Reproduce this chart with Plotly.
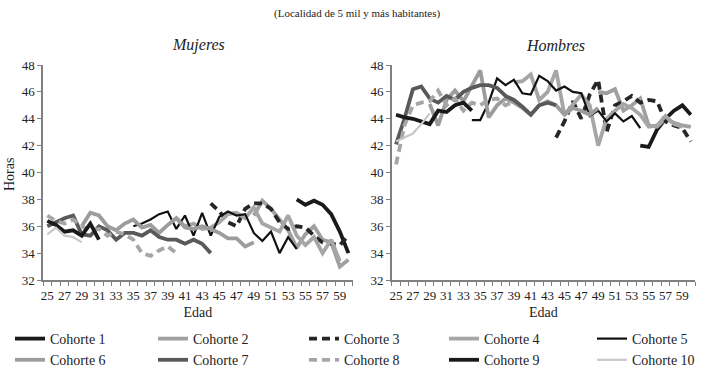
import plotly.graph_objects as go

AGES = list(range(25, 61))
TICK_AGES = list(range(25, 60, 2))
COHORTS = ["Cohorte %d" % i for i in range(1, 11)]

# ---- Mujeres (start age, values) ----
M1_START, M1 = 54, [38.0, 37.6, 37.9, 37.6, 36.9, 35.6, 34.0]
M2_START, M2 = 49, [36.8, 37.9, 37.3, 36.5, 35.7, 34.4, 35.4, 36.0, 35.0, 34.8, 33.0, 33.5]
M3_START, M3 = 44, [37.7, 37.1, 36.3, 36.0, 37.3, 37.7, 37.7, 37.3, 36.3, 35.8, 36.0, 35.9, 35.3, 34.8, 34.7, 34.6, 35.3]
M4_START, M4 = 40, [36.6, 36.0, 36.2, 35.8, 35.9, 36.3, 36.9, 37.0, 36.6, 37.4, 36.2, 35.9, 35.6, 36.8, 35.3, 34.6, 35.2, 34.0, 35.0, 33.4]
M5_START, M5 = 35, [36.0, 36.2, 36.5, 36.9, 37.1, 35.8, 36.8, 35.3, 37.0, 35.3, 36.7, 37.1, 36.8, 36.9, 35.5, 34.9, 35.6, 34.0, 35.2, 34.3]
M6_START, M6 = 29, [36.0, 37.0, 36.8, 36.0, 35.7, 36.2, 36.5, 35.9, 36.1, 35.5, 36.1, 36.6, 35.9, 35.8, 36.0, 35.8, 35.5, 35.1, 35.1, 34.5, 34.8]
M7_START, M7 = 25, [36.0, 36.3, 36.6, 36.8, 35.4, 35.3, 36.0, 35.7, 35.0, 35.5, 35.5, 35.3, 35.7, 35.2, 35.0, 35.0, 34.7, 35.0, 34.7, 34.0]
M8_START, M8 = 25, [36.8, 36.4, 36.2, 36.5, 36.0, 35.7, 35.8, 35.3, 35.6, 35.4, 35.0, 34.0, 33.8, 34.2, 34.5, 34.0]
M9_START, M9 = 25, [36.4, 36.1, 35.6, 35.7, 35.3, 36.2, 35.0]
M10_START, M10 = 25, [35.4, 35.9, 35.3, 35.2, 34.8]

# ---- Hombres ----
H1_START, H1 = 54, [42.0, 41.9, 43.2, 44.0, 44.6, 45.0, 44.3]
H2_START, H2 = 49, [46.0, 45.9, 46.2, 44.6, 45.0, 45.5, 43.5, 43.4, 44.0, 43.7, 43.5, 43.4]
H3_START, H3 = 44, [42.6, 43.8, 45.3, 44.0, 45.8, 46.9, 43.0, 45.0, 45.3, 45.7, 45.2, 45.4, 45.3, 43.8, 43.5, 43.3, 42.3]
H4_START, H4 = 39, [46.7, 46.8, 47.3, 45.4, 46.0, 47.6, 44.3, 45.0, 45.8, 45.0, 42.0, 44.0, 44.6, 45.1, 44.8, 44.3, 43.4, 43.5, 44.2, 43.6, 43.4]
H5_START, H5 = 34, [43.9, 43.9, 45.2, 47.0, 46.5, 46.9, 45.9, 45.8, 47.2, 46.8, 46.1, 46.4, 46.0, 45.9, 44.2, 44.6, 43.8, 44.4, 43.8, 44.2, 43.3]
H6_START, H6 = 29, [45.1, 43.5, 45.4, 46.1, 45.3, 46.4, 47.6, 44.1, 45.0, 45.5, 45.2, 44.8, 44.3, 45.0, 45.3, 45.0, 44.3, 44.8, 44.6, 44.3, 44.8]
H7_START, H7 = 25, [42.1, 44.0, 46.2, 46.4, 45.5, 45.2, 45.7, 45.4, 46.0, 46.3, 46.5, 46.5, 46.3, 45.7, 45.4, 44.9, 44.3, 45.0, 45.2, 45.0]
H8_START, H8 = 25, [40.6, 43.5, 45.0, 45.2, 45.3, 46.1, 45.0, 45.5, 44.6, 45.2, 45.0, 45.4, 45.5, 45.0, 45.3]
H9_START, H9 = 25, [44.3, 44.1, 44.0, 43.8, 43.6, 44.6, 44.5, 45.0, 45.2, 44.6]
H10_START, H10 = 25, [42.3, 42.6, 42.9, 43.6, 44.4]

MUJERES = [(M1_START, M1), (M2_START, M2), (M3_START, M3), (M4_START, M4), (M5_START, M5),
           (M6_START, M6), (M7_START, M7), (M8_START, M8), (M9_START, M9), (M10_START, M10)]
HOMBRES = [(H1_START, H1), (H2_START, H2), (H3_START, H3), (H4_START, H4), (H5_START, H5),
           (H6_START, H6), (H7_START, H7), (H8_START, H8), (H9_START, H9), (H10_START, H10)]

STYLES = [
    dict(color="#1a1a1a", width=3.8, dash="solid"),
    dict(color="#a0a0a0", width=3.8, dash="solid"),
    dict(color="#262626", width=3.8, dash="8px,5px"),
    dict(color="#a6a6a6", width=3.8, dash="solid"),
    dict(color="#111111", width=2.2, dash="solid"),
    dict(color="#9c9c9c", width=3.8, dash="solid"),
    dict(color="#595959", width=3.8, dash="solid"),
    dict(color="#a6a6a6", width=3.8, dash="8px,5px"),
    dict(color="#1a1a1a", width=3.8, dash="solid"),
    dict(color="#c8c8c8", width=2.2, dash="solid"),
]

W, H = 708, 370
ML, MR, MT, MB = 43, 13, 65, 90
PW, PH = W - ML - MR, H - MT - MB


def full(start, vals):
    out = [None] * len(AGES)
    for i, v in enumerate(vals):
        out[start - AGES[0] + i] = v
    return out


def px_x(px):
    return (px - ML) / PW


def px_y(py):
    return (H - MB - py) / PH


FONT = "Liberation Serif, Times New Roman, serif"
LEG_NAMES = ["legend", "legend2", "legend3", "legend4", "legend5"]
LEG_PX = [10, 153, 304, 444, 592]

fig = go.Figure()
for i, name in enumerate(COHORTS):
    st = STYLES[i]
    fig.add_trace(go.Scatter(x=AGES, y=full(*MUJERES[i]), mode="lines", name=name,
                             line=st, xaxis="x", yaxis="y", legendgroup=name,
                             legend=LEG_NAMES[i % 5], connectgaps=False))
    fig.add_trace(go.Scatter(x=AGES, y=full(*HOMBRES[i]), mode="lines", name=name,
                             line=st, xaxis="x2", yaxis="y2", legendgroup=name,
                             showlegend=False, connectgaps=False))

xcommon = dict(range=[24.5, 60.5], tickvals=TICK_AGES, ticks="", showgrid=False,
               zeroline=False, showline=True, linecolor="#808080", linewidth=1.5,
               tickfont=dict(family=FONT, size=13, color="#222"), ticklabelstandoff=3,
               minor=dict(tick0=24.5, dtick=1, ticks="outside", ticklen=4,
                          tickcolor="#808080", tickwidth=1, showgrid=False),
               title=dict(text="Edad", font=dict(family=FONT, size=14, color="#222"), standoff=5))
ycommon = dict(range=[32, 48], dtick=2, ticks="outside", ticklen=4, tickcolor="#808080",
               showgrid=False, zeroline=False, showline=True, linecolor="#808080", linewidth=1.5,
               tickfont=dict(family=FONT, size=13, color="#222"))

legends = {}
for k, ln in enumerate(LEG_NAMES):
    legends[ln] = dict(orientation="v", x=px_x(LEG_PX[k]), xanchor="left",
                       y=px_y(323), yanchor="top", tracegroupgap=0, itemwidth=30,
                       bgcolor="rgba(0,0,0,0)",
                       font=dict(family=FONT, size=14, color="#222"))


def ann(text, x, y, size, angle=0):
    return dict(text=text, xref="paper", yref="paper", x=px_x(x), y=px_y(y),
                xanchor="center", yanchor="middle", textangle=angle, showarrow=False,
                font=dict(family=FONT, size=size, color="#222"))


fig.update_layout(
    width=W, height=H,
    margin=dict(l=ML, r=MR, t=MT, b=MB, autoexpand=False),
    paper_bgcolor="white", plot_bgcolor="white",
    font=dict(family=FONT, color="#222"),
    xaxis=dict(domain=[0, 0.475], anchor="y", **xcommon),
    xaxis2=dict(domain=[0.535, 1], anchor="y2", **xcommon),
    yaxis=dict(domain=[0, 1], anchor="x", **ycommon),
    yaxis2=dict(domain=[0, 1], anchor="x2", **ycommon),
    showlegend=True,
    annotations=[
        ann("(Localidad de 5 mil y más habitantes)", 357, 13, 11),
        ann("<i>Mujeres</i>", 198, 45, 16),
        ann("<i>Hombres</i>", 555, 45, 16),
        ann("Horas", 9, 175, 14, -90),
    ],
    **legends,
)

fig.write_html("out.html", config={"displayModeBar": False},
               post_script="document.body.style.margin='0';")
